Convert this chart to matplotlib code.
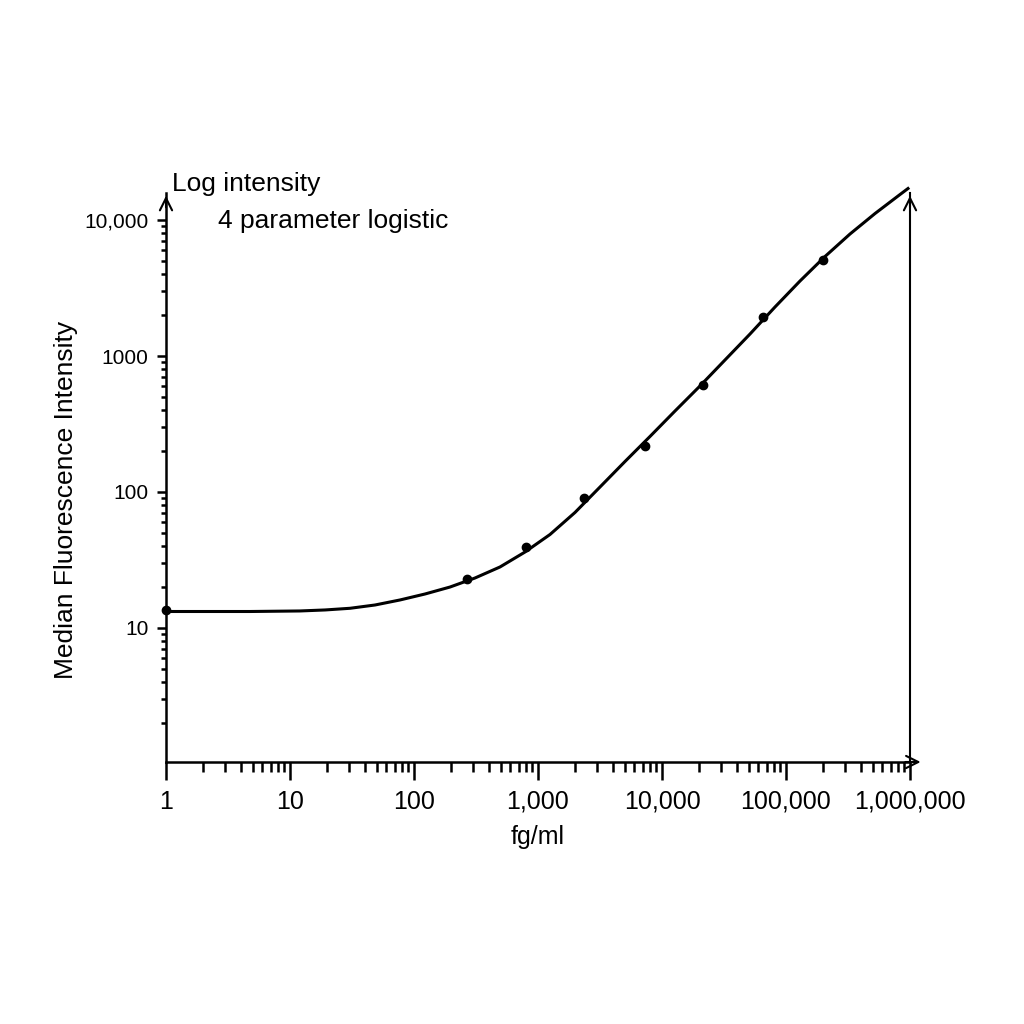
import numpy as np
from matplotlib import pyplot as plt
from matplotlib.ticker import FixedLocator, LogLocator, NullFormatter

plt.rcParams['font.family'] = ['Liberation Sans', 'DejaVu Sans']

# standards (fg/ml) and measured MFI
conc = [1, 267, 800, 2350, 7300, 21500, 65000, 200000]
mfi = [13.5, 22.9, 39.5, 90.3, 218, 612, 1937, 5080]

# fitted 4PL curve
fit_x = [1, 4.76, 12.0, 19.2, 30.5, 48.5, 77.1, 122.7, 195, 310, 494, 786,
         1250, 1988, 3162, 5030, 8000, 12730, 20250, 32220, 51250, 81530,
         129700, 206300, 328200, 522200, 830600, 963600]
fit_y = [13.22, 13.22, 13.34, 13.57, 13.96, 14.76, 16.07, 17.78, 20.0, 23.3,
         28.1, 36.2, 48.7, 70.7, 108.8, 167.6, 256, 394, 602, 935, 1451,
         2293, 3560, 5390, 7890, 11160, 15400, 17050]

xticks = [1, 10, 100, 1000, 10000, 100000, 1000000]
xtick_labels = ['1', '10', '100', '1,000', '10,000', '100,000', '1,000,000']
yticks = [10, 100, 1000, 10000]
ytick_labels = ['10', '100', '1000', '10,000']

fig = plt.figure(figsize=(10.24, 10.24), dpi=100)
ax = fig.add_axes([166/1024, 1 - 762/1024, 744/1024, 569/1024])

ax.plot(fit_x, fit_y, color='black', lw=2.2, clip_on=False, zorder=3)
ax.plot(conc, mfi, 'o', color='black', ms=6, clip_on=False, zorder=4)

ax.set_xscale('log')
ax.set_yscale('log')
ax.set_xlim(1, 1e6)
ax.set_ylim(1.034, 15800)

ax.xaxis.set_major_locator(FixedLocator(xticks))
ax.set_xticklabels(xtick_labels, fontsize=18)
ax.xaxis.set_minor_locator(LogLocator(base=10, subs=np.arange(2, 10)))
ax.xaxis.set_minor_formatter(NullFormatter())
ax.yaxis.set_major_locator(FixedLocator(yticks))
ax.set_yticklabels(ytick_labels, fontsize=15)
ax.yaxis.set_minor_locator(LogLocator(base=10, subs=np.arange(2, 10)))
ax.yaxis.set_minor_formatter(NullFormatter())

ax.tick_params(axis='x', which='major', direction='out', length=13, width=1.8, pad=7)
ax.tick_params(axis='x', which='minor', direction='out', length=7, width=1.8)
ax.tick_params(axis='y', which='major', direction='out', length=6.5, width=1.8, pad=6)
ax.tick_params(axis='y', which='minor', direction='out', length=3.5, width=1.8)

ax.spines['top'].set_visible(False)
for s in ['left', 'bottom']:
    ax.spines[s].set_linewidth(1.8)
ax.spines['right'].set_linewidth(1.5)

# arrow heads on the axes
arr = dict(arrowstyle='->', lw=1.5, color='black', mutation_scale=22)
ax.annotate('', xy=(0, 1.0), xytext=(0, 0.97), xycoords='axes fraction', arrowprops=arr)
ax.annotate('', xy=(1, 1.0), xytext=(1, 0.97), xycoords='axes fraction', arrowprops=arr)
ax.annotate('', xy=(1.018, 0), xytext=(0.99, 0), xycoords='axes fraction', arrowprops=arr)

ax.set_xlabel('fg/ml', fontsize=18, labelpad=8)
fig.text(66/1024, 1 - 500/1024, 'Median Fluorescence Intensity', fontsize=19,
         rotation=90, ha='center', va='center')

fig.text(172/1024, 1 - 184/1024, 'Log intensity', fontsize=19, va='center', ha='left')
fig.text(218/1024, 1 - 221/1024, '4 parameter logistic', fontsize=19, va='center', ha='left')

plt.savefig('out.png', dpi=100)
